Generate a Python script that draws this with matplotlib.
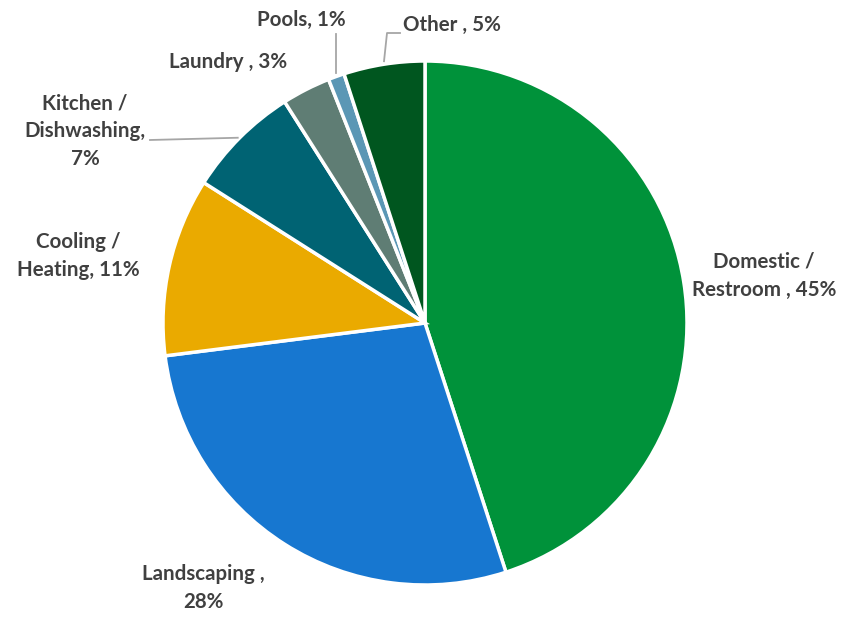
import matplotlib
matplotlib.use("Agg")
import matplotlib.pyplot as plt
import numpy as np

categories = ["Domestic /\nRestroom , 45%", "Landscaping ,\n28%", "Cooling /\nHeating, 11%",
              "Kitchen /\nDishwashing,\n7%", "Laundry , 3%", "Pools, 1%", "Other , 5%"]
values = [45, 28, 11, 7, 3, 1, 5]
colors = ["#00923A", "#1777D0", "#EAAA00", "#006373", "#5F7D74", "#5B97B5", "#00561F"]
# label centres in pixel coordinates (x from left, y from top)
label_pos = [(764, 276), (203, 588), (78, 256), (85, 131), (228, 62), (301, 20), (452, 25)]

W, H = 846, 619
fig = plt.figure(figsize=(W / 100, H / 100), dpi=100)
ax = fig.add_axes([0, 0, 1, 1])
ax.set_xlim(0, W)
ax.set_ylim(0, H)
ax.axis("off")

cx, cy, r = 425, H - 323, 262
wedges, _ = ax.pie(values, colors=colors, startangle=90, counterclock=False,
                   center=(cx, cy), radius=r,
                   wedgeprops=dict(edgecolor="white", linewidth=2.5))
ax.set_xlim(0, W)
ax.set_ylim(0, H)
ax.set_aspect("equal")

txtc = "#404040"
for lab, (px, py) in zip(categories, label_pos):
    ax.text(px, H - py, lab, ha="center", va="center", fontsize=14.8, fontweight="bold",
            color=txtc, family="Lato", linespacing=1.5)

# leader lines from wedge mid-points
def edge_point(i):
    w = wedges[i]
    ang = np.deg2rad((w.theta1 + w.theta2) / 2)
    return cx + r * np.cos(ang), cy + r * np.sin(ang)

lc = "#A6A6A6"
# Kitchen
x0, y0 = edge_point(3)
ax.plot([x0 - 2, 150], [y0, H - 140], color=lc, lw=1.3)
# Pools
x0, y0 = edge_point(5)
ax.plot([x0, x0], [y0 + 3, H - 34], color=lc, lw=1.3)
# Other
x0, y0 = edge_point(6)
ax.plot([x0, x0 + 3, x0 + 16], [y0 + 3, H - 33, H - 33], color=lc, lw=1.3)

fig.savefig("out.png", dpi=100, facecolor="white")
